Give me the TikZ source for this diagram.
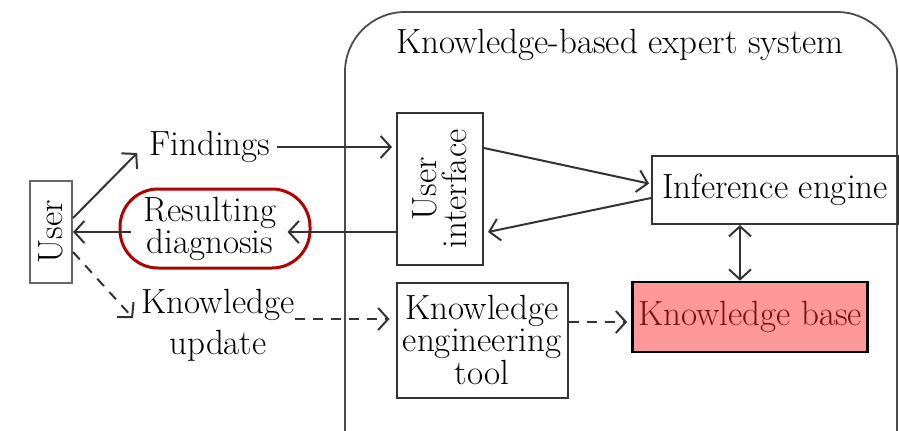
\documentclass[tikz,border=0pt]{standalone}
\usetikzlibrary{arrows.meta}
\definecolor{kbfill}{HTML}{FF9999}
\definecolor{kbtext}{HTML}{7A1010}
\definecolor{ovalred}{HTML}{B00000}
\begin{document}
\begin{tikzpicture}[x=0.5pt,y=-0.5pt,
  every node/.style={font=\fontsize{17.5}{17}\selectfont, inner sep=0pt, text=black},
  box/.style={draw=black!80, line width=1pt},
  arr/.style={draw=black!80, line width=1pt, -{Straight Barb[length=5pt,width=11pt]}},
  darr/.style={arr, dash pattern=on 5pt off 4pt},
]
\useasboundingbox (0,0) rectangle (899,430);
\begin{scope}
\clip (0,0) rectangle (899,430);
\draw[black!70, line width=0.9pt, rounded corners=30pt] (345,12) rectangle (897,520);
\end{scope}
\node (title) at (620,45) {Knowledge-based expert system};
\node[box, draw=black!60, rotate=90, minimum width=51pt, minimum height=21pt] (user) at (51,232) {User};
\node (find) at (210,147) {Findings};
\node[align=center, font=\fontsize{17.5}{16}\selectfont] (diag) at (210,229) {Resulting\\diagnosis};
\node[draw=ovalred, line width=1.5pt, rounded corners=19pt, minimum width=95pt, minimum height=39.5pt] (oval) at (215,228.5) {};
\node[align=center, font=\fontsize{17.5}{20.5}\selectfont] (upd) at (218,325) {Knowledge\\update};
\node[box, rotate=90, align=center, minimum width=76pt, minimum height=43pt, font=\fontsize{17.5}{15}\selectfont] (ui) at (440,189) {User\\interface};
\node[box, minimum width=123pt, minimum height=34pt] (ie) at (775,190) {Inference engine};
\node[box, draw=black, line width=1.3pt, fill=kbfill, minimum width=117.5pt, minimum height=35pt, text=kbtext] (kb) at (750,317) {Knowledge base};
\node[box, align=center, minimum width=85.5pt, minimum height=57.5pt, font=\fontsize{17.5}{13}\selectfont] (ket) at (482,340) {Knowledge\\engineering\\tool};
\coordinate (updtip) at (133,318);
% connectors
\draw[arr] ([yshift=7pt]user.south) -- ([xshift=-6pt,yshift=-3pt]find.west);
\draw[arr, shorten >=2pt] ([xshift=3pt]find.east) -- (find.east -| ui.north);
\draw[arr] ([yshift=-1.75pt]ui.north |- oval) -- ([xshift=-12pt,yshift=-1.75pt]oval.east);
\draw[arr] ([xshift=6pt,yshift=-1.75pt]oval.west) -- ([yshift=-1.75pt]user.south |- oval);
\draw[darr] ([yshift=-10pt]user.south) -- (updtip);
\draw[darr, shorten >=3pt] ([yshift=3pt]upd.east) -- ([yshift=3pt]upd.east -| ket.west);
\draw[arr, shorten >=1pt] ([yshift=20.5pt]ui.south) -- ([yshift=3pt]ie.west);
\draw[arr] ([yshift=-4pt]ie.west) -- ([yshift=-21.5pt,xshift=2pt]ui.south);
\draw[arr, {Straight Barb[length=5pt,width=11pt]}-{Straight Barb[length=5pt,width=11pt]}] ([xshift=-17.5pt]ie.south) -- ([xshift=-17.5pt]ie.south |- kb.north);
\draw[darr, shorten >=2pt] ([yshift=9pt]ket.east) -- ([yshift=9pt]ket.east -| kb.west);
\end{tikzpicture}
\end{document}
